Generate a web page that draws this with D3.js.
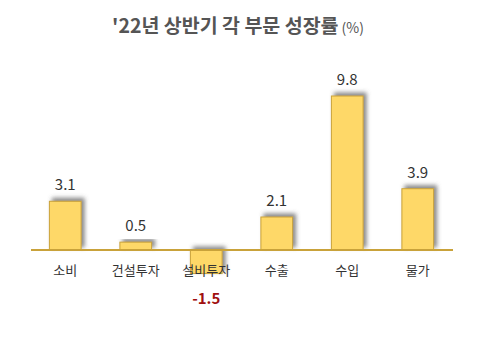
<!DOCTYPE html>
<html><head><meta charset="utf-8">
<script src="https://cdn.jsdelivr.net/npm/d3@7"></script>
<style>body{margin:0;background:#fff}svg{display:block}</style>
</head><body>
<script>
const categories = ["소비","건설투자","설비투자","수출","수입","물가"];
const values = [3.1, 0.5, -1.5, 2.1, 9.8, 3.9];
const labels = ["3.1","0.5","-1.5","2.1","9.8","3.9"];

const W=480,H=360;
const svg=d3.select("body").append("svg").attr("width",W).attr("height",H);
const defs=svg.append("defs");
const f=defs.append("filter").attr("id","sh").attr("x","-30%").attr("y","-30%").attr("width","160%").attr("height","160%");
f.append("feDropShadow").attr("dx",3).attr("dy",-3).attr("stdDeviation",2).attr("flood-color","#555").attr("flood-opacity",0.7);

const x=d3.scaleBand().domain(categories).range([30,453]).paddingInner(0.55).paddingOuter(0.275);
const y=d3.scaleLinear().domain([0,9.8]).range([250,96]);
const font="'Noto Sans CJK KR','Noto Sans',sans-serif";

svg.append("g").selectAll("rect").data(values).join("rect")
 .attr("x",(d,i)=>x(categories[i]))
 .attr("width",x.bandwidth())
 .attr("y",d=>Math.min(y(d),y(0)))
 .attr("height",d=>Math.abs(y(d)-y(0)))
 .attr("fill","#fed867").attr("stroke","#c9a23a").attr("stroke-width",1)
 .attr("filter","url(#sh)");

svg.append("line").attr("x1",31).attr("x2",453).attr("y1",y(0)).attr("y2",y(0))
 .attr("stroke","#c9a23a").attr("stroke-width",2);

svg.append("g").selectAll("text").data(categories).join("text")
 .attr("x",d=>x(d)+x.bandwidth()/2).attr("y",y(0)+25)
 .attr("text-anchor","middle").attr("font-family",font).attr("font-size",13).attr("fill","#333")
 .text(d=>d);

svg.append("g").selectAll("text").data(values).join("text")
 .attr("x",(d,i)=>x(categories[i])+x.bandwidth()/2)
 .attr("y",d=>d>=0? y(d)-11 : y(d)+30)
 .attr("text-anchor","middle").attr("font-family",font).attr("font-size",15)
 .attr("font-weight",d=>d>=0?400:700)
 .attr("fill",d=>d>=0?"#333":"#a01010")
 .text((d,i)=>labels[i]);

const t=svg.append("text").attr("x",238).attr("y",33).attr("text-anchor","middle")
 .attr("font-family",font).attr("fill","#555");
t.append("tspan").attr("font-size",19.5).attr("font-weight",700).text("'22년 상반기 각 부문 성장률");
t.append("tspan").attr("font-size",14).attr("dx",3).text("(%)");
</script>
</body></html>
